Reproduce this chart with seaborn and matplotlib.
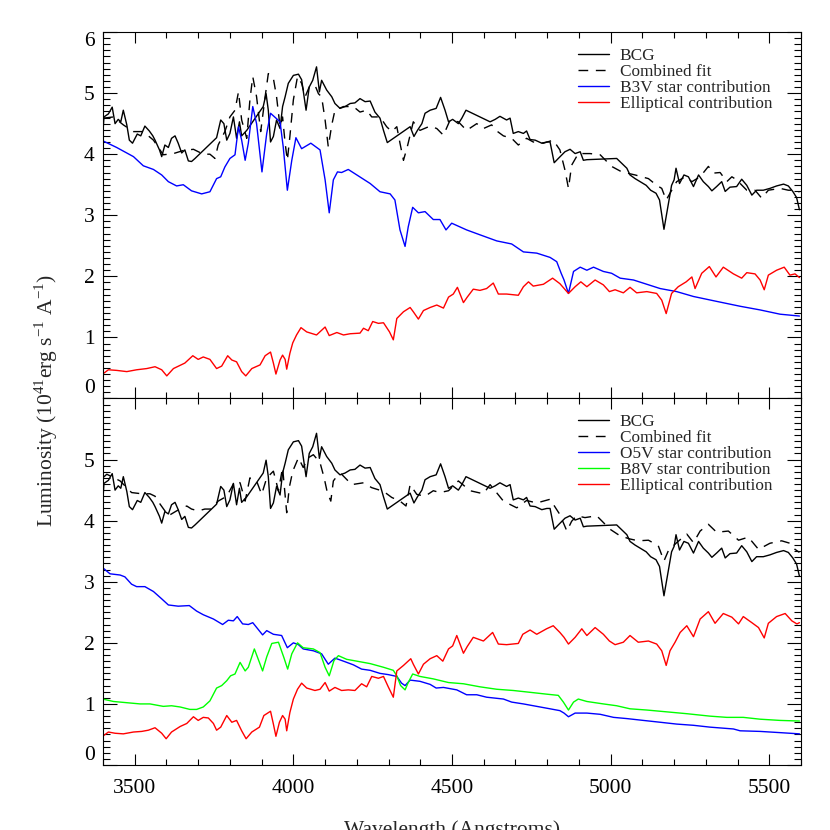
"""
plot.py
BCG spectrum with stellar population fits (two panels)
"""

import matplotlib.pyplot as plt
import numpy as np
import pandas as pd
import seaborn as sns
from matplotlib.ticker import MultipleLocator

sns.set_style("ticks")
plt.rcParams["font.family"] = ["Liberation Serif", "DejaVu Serif"]
plt.rcParams["mathtext.fontset"] = "custom"
plt.rcParams["mathtext.rm"] = "Liberation Serif"

# BCG spectrum (same in both panels)
bcg_wl = [3399, 3403, 3417, 3429, 3438, 3448, 3456, 3464, 3475, 3483, 3493, 3508, 3519, 3532,
          3546, 3557, 3564, 3578, 3585, 3595, 3606, 3616, 3627, 3637, 3648, 3658, 3669, 3679,
          3690, 3758, 3771, 3781, 3790, 3800, 3811, 3821, 3830, 3837, 3853, 3905, 3914, 3921,
          3928, 3937, 3947, 3958, 3966, 3974, 3984, 4000, 4016, 4026, 4040, 4050, 4061, 4073,
          4082, 4089, 4105, 4121, 4131, 4147, 4163, 4179, 4194, 4210, 4226, 4242, 4257, 4273,
          4284, 4296, 4368, 4380, 4391, 4405, 4415, 4431, 4450, 4464, 4478, 4489, 4502, 4520,
          4531, 4544, 4620, 4636, 4651, 4672, 4683, 4693, 4709, 4725, 4735, 4746, 4762, 4783,
          4799, 4809, 4822, 4835, 4856, 4872, 4888, 4904, 4914, 4925, 5019, 5035, 5051, 5061,
          5077, 5093, 5112, 5126, 5143, 5154, 5168, 5182, 5192, 5200, 5206, 5217, 5231, 5245,
          5261, 5277, 5292, 5308, 5319, 5334, 5350, 5361, 5376, 5397, 5413, 5429, 5445, 5460,
          5481, 5502, 5523, 5545, 5560, 5574, 5586, 5595]
bcg_lum = [4.29, 4.61, 4.66, 4.77, 4.50, 4.57, 4.53, 4.72, 4.48, 4.23, 4.18, 4.33, 4.30, 4.46,
           4.38, 4.30, 4.23, 4.07, 3.96, 4.15, 4.11, 4.26, 4.30, 4.18, 4.02, 4.07, 3.89, 3.88,
           3.93, 4.27, 4.56, 4.50, 4.23, 4.34, 4.61, 4.26, 4.53, 4.30, 4.39, 4.78, 4.99, 4.72,
           4.20, 4.29, 4.56, 4.42, 4.78, 4.94, 5.16, 5.29, 5.31, 5.22, 4.72, 5.10, 5.21, 5.43,
           5.02, 5.21, 5.05, 4.94, 4.83, 4.75, 4.78, 4.83, 4.84, 4.91, 4.86, 4.87, 4.69, 4.59,
           4.39, 4.19, 4.45, 4.29, 4.39, 4.50, 4.67, 4.72, 4.75, 4.93, 4.72, 4.53, 4.57, 4.50,
           4.59, 4.72, 4.53, 4.57, 4.62, 4.56, 4.59, 4.34, 4.37, 4.34, 4.38, 4.24, 4.23, 4.18,
           4.20, 4.20, 3.86, 3.93, 4.04, 4.08, 4.01, 4.04, 3.90, 3.91, 3.93, 3.85, 3.77, 3.66,
           3.60, 3.55, 3.49, 3.41, 3.36, 3.25, 2.77, 3.19, 3.49, 3.58, 3.77, 3.52, 3.66, 3.63,
           3.47, 3.66, 3.55, 3.47, 3.40, 3.47, 3.55, 3.39, 3.46, 3.47, 3.59, 3.49, 3.33, 3.41,
           3.41, 3.44, 3.48, 3.51, 3.48, 3.39, 3.29, 3.09]

# top panel: combined fit, B3V star, elliptical
fit1_wl = [3401, 3433, 3464, 3496, 3527, 3559, 3590, 3622, 3653, 3685, 3716, 3737, 3753, 3763,
           3784, 3800, 3816, 3827, 3837, 3853, 3863, 3872, 3884, 3897, 3911, 3921, 3937, 3947,
           3958, 3966, 3974, 3981, 3989, 4000, 4013, 4026, 4037, 4050, 4068, 4079, 4089, 4100,
           4110, 4121, 4131, 4158, 4189, 4210, 4231, 4247, 4273, 4294, 4310, 4326, 4336, 4347,
           4359, 4378, 4399, 4431, 4452, 4473, 4494, 4520, 4546, 4578, 4599, 4625, 4641, 4662,
           4688, 4709, 4735, 4756, 4788, 4819, 4840, 4856, 4867, 4877, 4898, 4935, 4967, 5003,
           5035, 5077, 5119, 5145, 5161, 5175, 5187, 5208, 5235, 5256, 5282, 5308, 5324, 5345,
           5366, 5382, 5397, 5429, 5455, 5476, 5497, 5534, 5560, 5581, 5595]
fit1_lum = [4.59, 4.61, 4.48, 4.37, 4.37, 4.23, 3.99, 4.01, 4.06, 4.08, 4.00, 4.00, 3.93, 4.15,
            4.37, 4.61, 4.72, 5.02, 4.56, 4.26, 4.89, 5.27, 4.94, 4.37, 4.94, 5.32, 5.24, 4.94,
            4.45, 4.61, 4.18, 3.90, 4.29, 4.89, 5.27, 5.16, 4.94, 5.10, 5.13, 4.99, 4.94, 4.56,
            4.12, 4.48, 4.72, 4.78, 4.78, 4.69, 4.72, 4.61, 4.61, 4.45, 4.37, 4.45, 4.18, 3.90,
            4.12, 4.53, 4.39, 4.46, 4.42, 4.31, 4.56, 4.53, 4.39, 4.50, 4.42, 4.48, 4.38, 4.30,
            4.26, 4.15, 4.26, 4.20, 4.18, 4.23, 4.07, 3.74, 3.44, 3.82, 4.01, 4.01, 3.99, 3.80,
            3.71, 3.66, 3.60, 3.49, 3.44, 3.25, 3.36, 3.55, 3.63, 3.55, 3.63, 3.80, 3.69, 3.70,
            3.55, 3.63, 3.58, 3.41, 3.41, 3.28, 3.41, 3.44, 3.41, 3.41, 3.38]

b3v_wl = [3399, 3443, 3496, 3527, 3559, 3585, 3606, 3632, 3653, 3679, 3711, 3737, 3758, 3771,
          3784, 3800, 3816, 3827, 3837, 3848, 3858, 3872, 3884, 3901, 3916, 3928, 3958, 3968,
          3981, 3995, 4008, 4026, 4055, 4084, 4100, 4113, 4126, 4139, 4152, 4173, 4200, 4242,
          4273, 4305, 4320, 4336, 4352, 4362, 4376, 4394, 4415, 4441, 4462, 4481, 4499, 4546,
          4588, 4641, 4688, 4725, 4767, 4809, 4830, 4844, 4853, 4867, 4883, 4904, 4925, 4946,
          4977, 5003, 5030, 5072, 5114, 5156, 5208, 5261, 5334, 5408, 5471, 5534, 5595]
b3v_lum = [4.22, 4.11, 3.96, 3.81, 3.75, 3.66, 3.55, 3.48, 3.50, 3.40, 3.35, 3.385, 3.60, 3.63,
           3.79, 3.93, 3.99, 4.45, 4.23, 3.90, 4.18, 4.78, 4.50, 3.71, 4.34, 4.67, 4.53, 4.12,
           3.41, 3.90, 4.27, 4.09, 4.18, 4.07, 3.58, 3.04, 3.58, 3.71, 3.70, 3.75, 3.66, 3.52,
           3.385, 3.35, 3.25, 2.76, 2.49, 2.81, 3.13, 3.04, 3.06, 2.93, 2.93, 2.76, 2.87, 2.76,
           2.68, 2.58, 2.53, 2.40, 2.38, 2.31, 2.24, 2.05, 1.94, 1.72, 2.08, 2.15, 2.10, 2.15,
           2.08, 2.05, 1.97, 1.94, 1.87, 1.80, 1.75, 1.67, 1.59, 1.51, 1.45, 1.38, 1.35]

ell1_wl = [3399, 3417, 3443, 3475, 3506, 3538, 3564, 3585, 3601, 3622, 3658, 3683, 3700, 3716,
           3737, 3758, 3774, 3793, 3806, 3821, 3837, 3850, 3869, 3895, 3911, 3928, 3937, 3945,
           3958, 3966, 3974, 3979, 3989, 3998, 4010, 4024, 4042, 4073, 4100, 4113, 4137, 4158,
           4179, 4210, 4221, 4236, 4250, 4268, 4284, 4303, 4315, 4326, 4347, 4368, 4378, 4394,
           4410, 4431, 4452, 4473, 4489, 4504, 4517, 4536, 4548, 4567, 4588, 4609, 4630, 4646,
           4672, 4709, 4725, 4741, 4756, 4788, 4817, 4840, 4867, 4888, 4906, 4925, 4951, 4977,
           4996, 5014, 5040, 5061, 5082, 5114, 5145, 5161, 5175, 5192, 5213, 5238, 5256, 5266,
           5287, 5311, 5332, 5355, 5387, 5413, 5429, 5455, 5471, 5484, 5497, 5523, 5547, 5565,
           5581, 5595]
ell1_lum = [0.40, 0.47, 0.46, 0.44, 0.47, 0.49, 0.52, 0.47, 0.37, 0.49, 0.58, 0.70, 0.64, 0.68,
            0.64, 0.49, 0.53, 0.70, 0.63, 0.60, 0.44, 0.37, 0.49, 0.55, 0.70, 0.76, 0.58, 0.40,
            0.63, 0.71, 0.64, 0.48, 0.74, 0.91, 1.04, 1.16, 1.09, 1.04, 1.17, 1.03, 1.08, 1.04,
            1.06, 1.07, 1.15, 1.11, 1.26, 1.23, 1.24, 1.09, 0.96, 1.31, 1.42, 1.49, 1.42, 1.30,
            1.44, 1.49, 1.53, 1.48, 1.66, 1.71, 1.82, 1.57, 1.66, 1.79, 1.77, 1.80, 1.89, 1.71,
            1.71, 1.69, 1.83, 1.91, 1.84, 1.87, 1.97, 1.88, 1.72, 1.83, 1.91, 1.83, 1.94, 1.86,
            1.75, 1.78, 1.73, 1.82, 1.73, 1.75, 1.72, 1.61, 1.39, 1.72, 1.83, 1.91, 1.99, 1.80,
            2.05, 2.16, 1.99, 2.15, 2.04, 1.97, 2.06, 2.04, 1.94, 1.78, 2.02, 2.10, 2.15, 2.02,
            2.04, 1.98]

# bottom panel: combined fit, O5V star, B8V star, elliptical
fit2_wl = [3399, 3412, 3454, 3490, 3522, 3548, 3564, 3580, 3606, 3632, 3664, 3679, 3700, 3721,
           3742, 3763, 3790, 3816, 3832, 3848, 3863, 3884, 3900, 3916, 3937, 3953, 3966, 3979,
           3987, 3998, 4016, 4031, 4047, 4063, 4084, 4097, 4107, 4118, 4126, 4142, 4152, 4184,
           4221, 4247, 4284, 4310, 4336, 4355, 4368, 4389, 4415, 4441, 4462, 4489, 4520, 4557,
           4599, 4620, 4662, 4704, 4735, 4767, 4809, 4840, 4862, 4877, 4893, 4919, 4956, 4998,
           5030, 5061, 5087, 5119, 5150, 5168, 5182, 5208, 5240, 5261, 5282, 5308, 5334, 5371,
           5403, 5434, 5466, 5502, 5539, 5565, 5581, 5595]
fit2_lum = [4.70, 4.76, 4.65, 4.46, 4.44, 4.44, 4.40, 4.27, 4.08, 4.16, 4.24, 4.19, 4.16, 4.19,
            4.19, 4.32, 4.40, 4.65, 4.62, 4.32, 4.70, 4.65, 4.43, 4.70, 4.81, 4.49, 4.87, 4.13,
            4.54, 4.81, 5.03, 4.87, 5.03, 5.08, 4.95, 4.70, 4.46, 4.32, 4.65, 4.76, 4.76, 4.59,
            4.62, 4.54, 4.48, 4.38, 4.32, 4.24, 4.59, 4.43, 4.40, 4.49, 4.46, 4.49, 4.65, 4.49,
            4.44, 4.59, 4.32, 4.21, 4.33, 4.29, 4.35, 4.10, 3.83, 3.99, 4.08, 4.05, 4.08, 3.86,
            3.75, 3.70, 3.67, 3.68, 3.59, 3.34, 3.51, 3.64, 3.78, 3.64, 3.83, 3.94, 3.81, 3.83,
            3.68, 3.73, 3.53, 3.63, 3.67, 3.63, 3.53, 3.48]

o5v_wl = [3399, 3422, 3454, 3469, 3490, 3506, 3532, 3559, 3585, 3606, 3637, 3672, 3695, 3716,
          3748, 3777, 3795, 3811, 3823, 3840, 3858, 3872, 3886, 3903, 3916, 3937, 3963, 3981,
          4000, 4016, 4031, 4063, 4089, 4110, 4131, 4158, 4189, 4215, 4242, 4273, 4299, 4326,
          4341, 4352, 4368, 4399, 4431, 4450, 4473, 4515, 4546, 4578, 4609, 4662, 4688, 4725,
          4767, 4809, 4840, 4853, 4867, 4888, 4925, 4967, 5009, 5051, 5103, 5156, 5208, 5261,
          5313, 5387, 5408, 5471, 5534, 5595]
o5v_lum = [3.23, 3.13, 3.11, 3.08, 2.96, 2.92, 2.92, 2.84, 2.72, 2.62, 2.60, 2.61, 2.52, 2.46,
           2.39, 2.30, 2.37, 2.36, 2.43, 2.31, 2.30, 2.33, 2.24, 2.13, 2.20, 2.14, 2.12, 1.92,
           2.00, 1.97, 1.90, 1.87, 1.82, 1.65, 1.75, 1.70, 1.64, 1.57, 1.55, 1.50, 1.48, 1.45,
           1.34, 1.30, 1.39, 1.37, 1.32, 1.26, 1.27, 1.23, 1.15, 1.15, 1.11, 1.08, 1.03, 1.00,
           0.96, 0.92, 0.89, 0.85, 0.79, 0.85, 0.85, 0.83, 0.78, 0.76, 0.73, 0.70, 0.67, 0.65,
           0.62, 0.59, 0.56, 0.55, 0.53, 0.51]

b8v_wl = [3399, 3433, 3475, 3517, 3548, 3590, 3616, 3643, 3674, 3695, 3716, 3737, 3758, 3774,
          3790, 3802, 3816, 3832, 3848, 3858, 3877, 3893, 3903, 3916, 3932, 3953, 3970, 3982,
          3995, 4013, 4031, 4063, 4084, 4100, 4113, 4128, 4142, 4168, 4200, 4242, 4284, 4315,
          4326, 4338, 4352, 4362, 4376, 4399, 4441, 4489, 4536, 4588, 4641, 4693, 4746, 4798,
          4835, 4851, 4867, 4883, 4898, 4925, 4977, 5019, 5061, 5114, 5177, 5240, 5313, 5366,
          5418, 5471, 5534, 5595]
b8v_lum = [1.08, 1.04, 1.02, 1.00, 1.00, 0.96, 0.97, 0.95, 0.91, 0.91, 0.95, 1.05, 1.26, 1.30,
           1.38, 1.46, 1.49, 1.68, 1.54, 1.60, 1.90, 1.68, 1.54, 1.77, 1.99, 2.01, 1.76, 1.57,
           1.82, 2.00, 1.92, 1.90, 1.84, 1.60, 1.46, 1.71, 1.79, 1.73, 1.70, 1.66, 1.60, 1.55,
           1.46, 1.30, 1.23, 1.35, 1.49, 1.45, 1.41, 1.35, 1.33, 1.28, 1.24, 1.22, 1.19, 1.16,
           1.14, 1.03, 0.90, 1.03, 1.08, 1.04, 1.00, 0.97, 0.92, 0.90, 0.87, 0.84, 0.80, 0.78,
           0.78, 0.75, 0.73, 0.72]

ell2_wl = [3399, 3417, 3438, 3464, 3496, 3522, 3543, 3564, 3585, 3599, 3616, 3643, 3664, 3685,
           3700, 3716, 3732, 3748, 3758, 3771, 3790, 3806, 3821, 3837, 3851, 3869, 3893, 3907,
           3928, 3937, 3945, 3956, 3966, 3974, 3979, 3989, 4000, 4013, 4026, 4042, 4068, 4084,
           4100, 4113, 4131, 4152, 4173, 4194, 4215, 4231, 4247, 4268, 4284, 4299, 4315, 4326,
           4347, 4370, 4378, 4394, 4410, 4431, 4452, 4471, 4489, 4502, 4515, 4536, 4548, 4567,
           4599, 4628, 4646, 4672, 4709, 4723, 4746, 4767, 4798, 4819, 4840, 4853, 4867, 4888,
           4909, 4925, 4951, 4977, 4996, 5014, 5040, 5061, 5087, 5119, 5145, 5161, 5175, 5187,
           5203, 5219, 5240, 5261, 5282, 5308, 5329, 5355, 5382, 5403, 5418, 5445, 5466, 5484,
           5497, 5523, 5550, 5571, 5587, 5595]
ell2_lum = [0.47, 0.54, 0.52, 0.51, 0.54, 0.55, 0.57, 0.61, 0.52, 0.43, 0.54, 0.63, 0.68, 0.79,
            0.73, 0.78, 0.77, 0.68, 0.57, 0.62, 0.81, 0.70, 0.73, 0.56, 0.43, 0.54, 0.62, 0.81,
            0.88, 0.67, 0.47, 0.70, 0.81, 0.75, 0.56, 0.86, 1.08, 1.24, 1.34, 1.26, 1.22, 1.24,
            1.35, 1.21, 1.27, 1.22, 1.23, 1.22, 1.33, 1.28, 1.45, 1.42, 1.45, 1.28, 1.11, 1.54,
            1.63, 1.74, 1.65, 1.49, 1.65, 1.74, 1.79, 1.70, 1.90, 1.95, 2.12, 1.83, 1.94, 2.09,
            2.03, 2.17, 1.98, 1.97, 1.99, 2.14, 2.21, 2.14, 2.23, 2.28, 2.17, 2.09, 1.98, 2.09,
            2.23, 2.12, 2.25, 2.14, 2.03, 1.97, 2.01, 2.12, 2.01, 2.03, 1.98, 1.87, 1.63, 1.87,
            2.01, 2.17, 2.28, 2.10, 2.39, 2.51, 2.32, 2.48, 2.42, 2.31, 2.43, 2.33, 2.25, 2.08,
            2.32, 2.43, 2.48, 2.36, 2.31, 2.33]

dash = (0, (7, 5.5))
top_series = [
    ("BCG", bcg_wl, bcg_lum, "black", "-"),
    ("Combined fit", fit1_wl, fit1_lum, "black", dash),
    ("B3V star contribution", b3v_wl, b3v_lum, "#0000ff", "-"),
    ("Elliptical contribution", ell1_wl, ell1_lum, "#ff0000", "-"),
]
bottom_series = [
    ("BCG", bcg_wl, bcg_lum, "black", "-"),
    ("Combined fit", fit2_wl, fit2_lum, "black", dash),
    ("O5V star contribution", o5v_wl, o5v_lum, "#0000ff", "-"),
    ("B8V star contribution", b8v_wl, b8v_lum, "#00ff00", "-"),
    ("Elliptical contribution", ell2_wl, ell2_lum, "#ff0000", "-"),
]

fig = plt.figure(figsize=(8.3, 8.3), dpi=100)
ax1 = fig.add_axes([0.1241, 0.5199, 0.841, 0.4415])
ax2 = fig.add_axes([0.1241, 0.0783, 0.841, 0.4416])

for ax, series, yticks in [(ax1, top_series, range(7)), (ax2, bottom_series, range(6))]:
    for name, wl, lum, col, ls in series:
        df = pd.DataFrame({"wl": wl, "lum": lum})
        sns.lineplot(data=df, x="wl", y="lum", ax=ax, color=col, linestyle=ls,
                     linewidth=1.0, estimator=None, label=name)
    ax.set_xlim(3400, 5600)
    ax.set_ylim(0, 6)
    ax.set_xlabel("")
    ax.set_ylabel("")
    ax.set_yticks(list(yticks))
    ax.xaxis.set_minor_locator(MultipleLocator(100))
    ax.yaxis.set_minor_locator(MultipleLocator(0.1))
    ax.tick_params(which="both", direction="in", top=True, right=True,
                   labelsize=15.5, colors="black")
    ax.tick_params(axis="y", which="major", length=10, width=0.8, pad=6)
    ax.tick_params(axis="y", which="minor", length=5, width=0.8)
    ax.tick_params(axis="x", which="major", length=8, width=0.8, pad=10)
    ax.tick_params(axis="x", which="minor", length=4, width=0.8)
    for sp in ax.spines.values():
        sp.set_linewidth(0.8)
        sp.set_color("black")
    ax.legend(loc="upper right", bbox_to_anchor=(0.976, 0.99), frameon=False,
              fontsize=12.4, handlelength=1.8, handletextpad=0.65,
              labelspacing=0.0, borderpad=0.2)

ax1.set_xticks([3500, 4000, 4500, 5000, 5500])
ax2.set_xticks([3500, 4000, 4500, 5000, 5500])
ax1.tick_params(axis="x", labelbottom=False)

# end labels sit inside the panel
fig.canvas.draw()
for ax in (ax1, ax2):
    for lbl in ax.get_yticklabels():
        if lbl.get_text() == "0":
            lbl.set_verticalalignment("bottom")
        elif lbl.get_text() == "6":
            lbl.set_verticalalignment("top")

fig.text(0.056, 0.518, r"Luminosity (10$^{41}$erg s$^{-1}$ A$^{-1}$)", rotation=90,
         ha="center", va="center", fontsize=15.5)
fig.text(0.545, -0.006, "Wavelength (Angstroms)", ha="center", va="baseline", fontsize=15.5)

fig.savefig("out.png", dpi=100)
